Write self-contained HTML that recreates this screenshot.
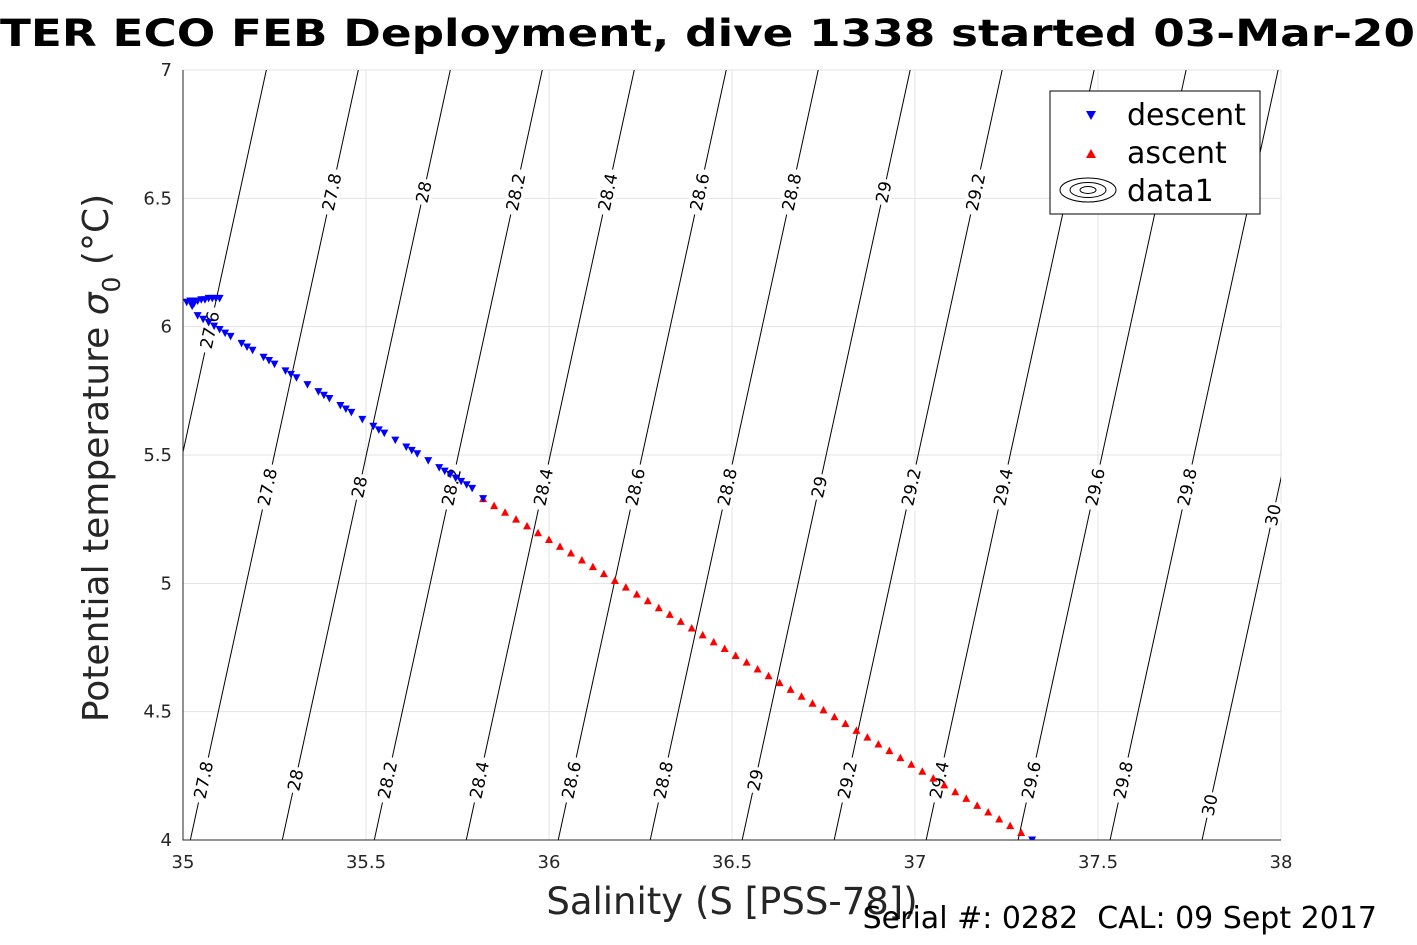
<!DOCTYPE html>
<html><head><meta charset="utf-8">
<style>
html,body{margin:0;padding:0;background:#fff;}
svg{display:block;font-family:"DejaVu Sans","Liberation Sans",sans-serif;}
</style></head>
<body>
<svg id="chart" width="1417" height="945" viewBox="0 0 1417 945" xmlns="http://www.w3.org/2000/svg">
<defs><clipPath id="clip"><rect x="183" y="70" width="1098" height="770"/></clipPath></defs>
<rect x="0" y="0" width="1417" height="945" fill="#fff"/>
<text x="0" y="46" font-size="37" font-weight="bold" textLength="1415" lengthAdjust="spacingAndGlyphs">TER ECO FEB Deployment, dive 1338 started 03-Mar-20</text>
<g id="grid"></g>
<g id="contours" clip-path="url(#clip)"></g>
<g id="clabels"></g>
<g id="marks" clip-path="url(#clip)"></g>
<g id="axes"></g>
<text transform="translate(108,458) rotate(-90)" text-anchor="middle" font-size="36" fill="#262626">Potential temperature <tspan font-style="italic">σ</tspan><tspan font-size="25" dy="12">0</tspan><tspan dy="-12"> (°C)</tspan></text>
<text x="732" y="914" text-anchor="middle" font-size="37" fill="#262626">Salinity (S [PSS-78])</text>
<text x="1377" y="928" text-anchor="end" font-size="30" fill="#000">Serial #: 0282&#160;&#160;CAL: 09 Sept 2017</text>
<g>
<rect x="1050" y="91" width="210" height="123" fill="#fff" stroke="#000" stroke-width="1"/>
<polygon points="1086,111 1096,111 1091,120" fill="#0000ff"/>
<text x="1127" y="125" font-size="30">descent</text>
<polygon points="1086,158 1096,158 1091,149" fill="#ff0000"/>
<text x="1127" y="163" font-size="30">ascent</text>
<g fill="none" stroke="#000" stroke-width="1">
<ellipse cx="1088" cy="190" rx="28" ry="12"/><ellipse cx="1088" cy="190" rx="18" ry="7.5"/><ellipse cx="1088" cy="190" rx="8" ry="3.5"/></g>
<text x="1127" y="201" font-size="30">data1</text>
</g>
</svg>
<script>
const xTicks=[35,35.5,36,36.5,37,37.5,38];
const xTickLabels=["35","35.5","36","36.5","37","37.5","38"];
const yTicks=[4,4.5,5,5.5,6,6.5,7];
const yTickLabels=["4","4.5","5","5.5","6","6.5","7"];
const levels=[27.6,27.8,28,28.2,28.4,28.6,28.8,29,29.2,29.4,29.6,29.8,30];
const levelLabels=["27.6","27.8","28","28.2","28.4","28.6","28.8","29","29.2","29.4","29.6","29.8","30"];
const descS=[35.79,35.775,35.76,35.745,35.73,35.715,35.70,35.67,35.64,35.625,35.61,35.58,35.55,35.535,35.52,35.49,35.46,35.445,35.43,35.40,35.385,35.37,35.34,35.31,35.295,35.28,35.25,35.235,35.22,35.19,35.175,35.16,35.13,35.115,35.10,35.085,35.07,35.055,35.04,35.02,35.03,35.04,35.05,35.06,35.07,35.08,35.09,35.10,35.03,35.01,35.025,37.32,35.82];
const descT=[5.37,5.384,5.397,5.41,5.424,5.437,5.451,5.478,5.505,5.518,5.531,5.558,5.585,5.598,5.612,5.639,5.666,5.679,5.693,5.720,5.733,5.747,5.774,5.801,5.814,5.828,5.854,5.868,5.881,5.908,5.921,5.935,5.962,5.975,5.989,6.002,6.016,6.029,6.043,6.10,6.10,6.10,6.105,6.105,6.11,6.11,6.11,6.11,6.09,6.095,6.08,4.0,5.33];
const ascS=[35.82,35.85,35.88,35.91,35.94,35.97,36.00,36.03,36.06,36.09,36.12,36.15,36.18,36.21,36.24,36.27,36.30,36.33,36.36,36.39,36.42,36.45,36.48,36.51,36.54,36.57,36.60,36.63,36.66,36.69,36.72,36.75,36.78,36.81,36.84,36.87,36.90,36.93,36.96,36.99,37.02,37.05,37.08,37.11,37.14,37.17,37.20,37.23,37.26,37.29];
const ascT=[5.33,5.303,5.277,5.250,5.224,5.197,5.171,5.144,5.118,5.091,5.065,5.038,5.011,4.985,4.958,4.932,4.905,4.879,4.852,4.826,4.799,4.772,4.746,4.719,4.693,4.666,4.640,4.613,4.587,4.560,4.533,4.507,4.480,4.454,4.427,4.401,4.374,4.348,4.321,4.295,4.268,4.241,4.215,4.188,4.162,4.135,4.109,4.082,4.056,4.029];

const NS="http://www.w3.org/2000/svg";
const X0=183,X1=1281,Y0=840,Y1=70;
function sx(s){return X0+(s-35)/3*(X1-X0);}
function sy(t){return Y0-(t-4)/3*(Y0-Y1);}
function cx(L,y){return sx(35.02+(L-27.8)*1.2565)+168*(Y0-y)/770;}
function mk(tag,attrs,parent){const e=document.createElementNS(NS,tag);for(const k in attrs)e.setAttribute(k,attrs[k]);parent.appendChild(e);return e;}
const grid=document.getElementById('grid'),axes=document.getElementById('axes');
xTicks.forEach((v,i)=>{
 const l=mk('line',{x1:sx(v),x2:sx(v),y1:Y1,y2:Y0,stroke:'#e3e3e3','stroke-width':1},grid);
 
 
 const t=mk('text',{x:sx(v),y:868,'text-anchor':'middle','font-size':18,fill:'#262626'},axes);
 t.textContent=xTickLabels[i];
 
 
});
yTicks.forEach((v,i)=>{
 const l=mk('line',{x1:X0,x2:X1,y1:sy(v),y2:sy(v),stroke:'#e3e3e3','stroke-width':1},grid);
 
 
 const t=mk('text',{x:172,y:sy(v)+6,'text-anchor':'end','font-size':18,fill:'#262626'},axes);
 t.textContent=yTickLabels[i];
 
 
});
const ax=mk('path',{d:`M${X0},${Y1}V${Y0}H${X1}`,fill:'none',stroke:'#262626','stroke-width':1},axes);


const cont=document.getElementById('contours'),cl=document.getElementById('clabels');
const ang=-77.7;
levels.forEach((L,i)=>{
 const p=mk('line',{x1:cx(L,Y0),y1:Y0,x2:cx(L,Y1),y2:Y1,stroke:'#000','stroke-width':1},cont);
 
 
 let rows=[];
 if(L===27.6) rows=[330];
 else if(L===30) rows=[515,805];
 else rows=[192,487,780];
 rows.forEach(y=>{
  const x=cx(L,y);
  if(x<X0||x>X1) return;
  if(y===192 && x>1040 && x<1240) return;
  const g=mk('g',{transform:`translate(${x},${y}) rotate(${ang})`},cl);
  
  
  const w=levelLabels[i].length*10+6;
  mk('rect',{x:-w/2,y:-9,width:w,height:18,fill:'#fff'},g);
  const t=mk('text',{x:0,y:6,'text-anchor':'middle','font-size':17},g);
  t.textContent=levelLabels[i];
 });
});
const marks=document.getElementById('marks');
ascS.forEach((s,i)=>{
 const x=sx(s),y=sy(ascT[i]);
 const p=mk('polygon',{points:`${x-4},${y+3.5} ${x+4},${y+3.5} ${x},${y-4}`,fill:'#ff0000'},marks);
 
 
});
descS.forEach((s,i)=>{
 const x=sx(s),y=sy(descT[i]);
 const p=mk('polygon',{points:`${x-4},${y-3.5} ${x+4},${y-3.5} ${x},${y+4}`,fill:'#0000ff'},marks);
 
 
});
</script>
</body></html>
